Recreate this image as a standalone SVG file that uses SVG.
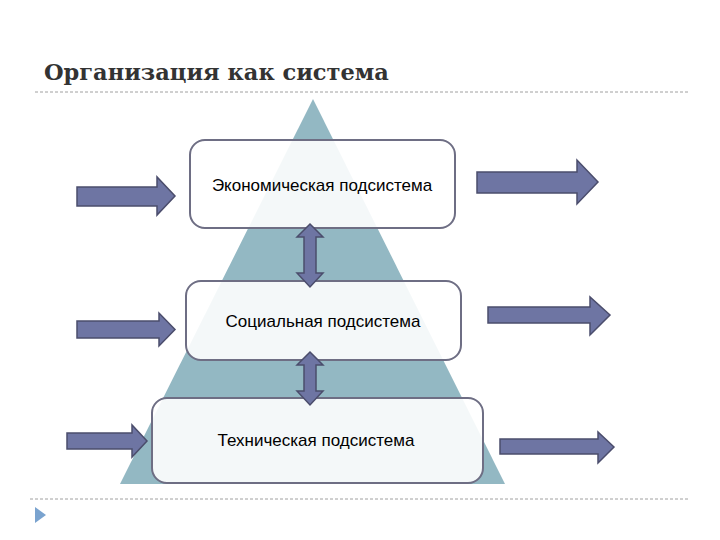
<svg xmlns="http://www.w3.org/2000/svg" width="720" height="540" viewBox="0 0 720 540">
<defs>
<style>
.box{fill:#ffffff;fill-opacity:0.9;stroke:#6e6e84;stroke-width:2}
.arr{fill:#6e75a3;stroke:#4b4d6c;stroke-width:1.5;stroke-linejoin:miter}
.lbl{font-family:"Liberation Sans",Arial,sans-serif;font-size:17px;fill:#000;text-anchor:middle}
.rule{stroke:#a0a0a0;stroke-width:1;stroke-dasharray:3 2;fill:none}
</style>
</defs>
<rect width="720" height="540" fill="#ffffff"/>
<text x="44" y="80" font-family="'DejaVu Serif','Liberation Serif',serif" font-weight="bold" font-size="22.5" fill="#333333">Организация как система</text>
<line class="rule" x1="35" y1="92" x2="688" y2="92"/>
<line class="rule" x1="30" y1="499" x2="688" y2="499"/>
<polygon points="35,507 35,523 46,515" fill="#7aa3cf"/>
<polygon id="pyramid" points="313,99 505,484 120,484" fill="#93b8c3"/>
<g id="connectors">
<polygon class="arr" points="77,187 157,187 157,177 175,196 157,215 157,206 77,206"/>
<polygon class="arr" points="77,321 159,321 159,313 175,329.5 159,346 159,338 77,338"/>
<polygon class="arr" points="67,433 132,433 132,425 147,441 132,457 132,449 67,449"/>
<polygon class="arr" points="477,172 577,172 577,160 598,182 577,204 577,193 477,193"/>
<polygon class="arr" points="488,307 590,307 590,297 610,315 590,335 590,323 488,323"/>
<polygon class="arr" points="500,439 598,439 598,432 614,447 598,463 598,454 500,454"/>
</g>
<g id="node-econ">
<rect class="box" x="190" y="140" width="265" height="88" rx="15"/>
<text class="lbl" x="322" y="191">Экономическая подсистема</text>
</g>
<g id="node-social">
<rect class="box" x="186" y="281" width="275" height="79" rx="15"/>
<text class="lbl" x="323" y="327">Социальная подсистема</text>
</g>
<g id="node-tech">
<rect class="box" x="152" y="398" width="331" height="85" rx="15"/>
<text class="lbl" x="316" y="446">Техническая подсистема</text>
</g>
<g id="connectors-vertical">
<polygon class="arr" points="310,224 323,237 316,237 316,273 323,273 310,287 297,273 304,273 304,237 297,237"/>
<polygon class="arr" points="310,352 323,365 316,365 316,391 323,391 310,405 297,391 304,391 304,365 297,365"/>
</g>
</svg>
